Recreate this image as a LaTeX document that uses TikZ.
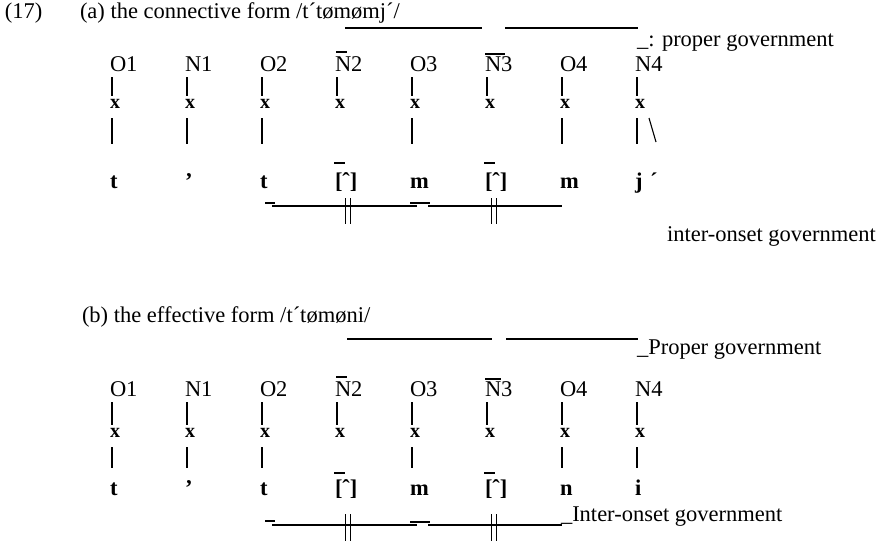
\documentclass[tikz,border=0pt]{standalone}
\usepackage{fontspec}
\setmainfont{Liberation Serif}
\usetikzlibrary{calc}
\newcommand\dfs{\fontsize{22.5}{26}\selectfont}
\newcommand\xfs{\fontsize{20}{24}\selectfont}
\begin{document}
\begin{tikzpicture}[x=1pt,y=-1pt,
  every node/.style={inner sep=0pt,outer sep=0pt,anchor=base west,font=\dfs},
  xmark/.style={font=\xfs\bfseries},
  seg/.style={font=\dfs\bfseries},
  vbar/.style={line width=1.1pt},
  govline/.style={line width=1.5pt},
  tick/.style={line width=0.9pt}]
\useasboundingbox[fill=white] (0,0) rectangle (887,541);

% ---------------- (a) ----------------
\node (num) at (5,18) {(17)};
\node (ha) at (80,18) {(a) the connective form /t´tømømj´/};

\foreach \lab [count=\i] in {O1,N1,O2,N2,O3,N3,O4,N4} {
  \pgfmathsetmacro\cx{110+75*(\i-1)}
  \node (la\i) at (\cx,71) {\lab};
  \node[xmark] (xa\i) at (\cx,108) {x};
  \draw[vbar] ($(la\i.base west)+(2,6)$) -- ($(xa\i.north west)+(2,-3)$);
}
\foreach \v [count=\i] in {t,’,t,{[ˆ]},m,{[ˆ]},m,j} {
  \pgfmathsetmacro\cx{110+75*(\i-1)}
  \node[seg] (ba\i) at (\cx,188) {\v};
}
\node[seg] (acca) at (650,188) {´};
\foreach \i in {1,2,3,5,7,8} {
  \draw[vbar] ($(xa\i.base west)+(2,10)$) -- ($(ba\i.base west)+(2,-44)$);
}
\draw[vbar] ($(xa8.base west)+(14,10)$) -- ($(acca.base west)+(6,-46)$);
% macrons
\draw[vbar] ($(ba4.base west)+(-1,-25)$) -- ++(11,0);
\draw[vbar] ($(ba6.base west)+(-1,-25)$) -- ++(11,0);
% overbars on labels
\draw[vbar] ($(la4.base west)+(1,-19)$) -- ++(11,0);
\draw[vbar] ($(la6.base west)+(0,-17)$) -- ++(20,0);

% proper government lines
\coordinate (pa1) at (345,28);
\coordinate (pa2) at (482,28);
\coordinate (pa3) at (505,28);
\coordinate (pa4) at (638,28);
\draw[govline] (pa1) -- (pa2);
\draw[govline] (pa3) -- (pa4);
\node (pga) at (637,46) {\_: proper government};

% inter-onset lines
\coordinate (ia0) at (265,203);
\coordinate (ia1) at (275,203);
\coordinate (ia2) at (272,206);
\coordinate (ia3) at (417,206);
\coordinate (ia4) at (410,203);
\coordinate (ia5) at (430,203);
\coordinate (ia6) at (428,206);
\coordinate (ia7) at (562,206);
\draw[govline] (ia0) -- (ia1);
\draw[govline] (ia2) -- (ia3);
\draw[govline] (ia4) -- (ia5);
\draw[govline] (ia6) -- (ia7);
\foreach \xx in {345,350,491,496} \draw[tick] (\xx,198) -- (\xx,224);
\node (ioa) at (667,241) {inter-onset government};

% ---------------- (b) ----------------
\node (hb) at (82,322) {(b) the effective form /t´tømøni/};

\foreach \lab [count=\i] in {O1,N1,O2,N2,O3,N3,O4,N4} {
  \pgfmathsetmacro\cx{110+75*(\i-1)}
  \node (lb\i) at (\cx,396) {\lab};
  \node[xmark] (xb\i) at (\cx,437) {x};
  \draw[vbar] ($(lb\i.base west)+(2,6)$) -- ($(xb\i.north west)+(2,-3)$);
}
\foreach \v [count=\i] in {t,’,t,{[ˆ]},m,{[ˆ]},n,i} {
  \pgfmathsetmacro\cx{110+75*(\i-1)}
  \node[seg] (bb\i) at (\cx,495) {\v};
}
\foreach \i in {1,2,3,5,7,8} {
  \draw[vbar] ($(xb\i.base west)+(2,10)$) -- ($(bb\i.base west)+(2,-27)$);
}
\draw[vbar] ($(bb4.base west)+(-1,-22)$) -- ++(11,0);
\draw[vbar] ($(bb6.base west)+(-1,-22)$) -- ++(11,0);
\draw[vbar] ($(lb4.base west)+(1,-19)$) -- ++(11,0);
\draw[vbar] ($(lb6.base west)+(0,-17)$) -- ++(16,0);

\coordinate (pb1) at (347,339);
\coordinate (pb2) at (492,339);
\coordinate (pb3) at (506,339);
\coordinate (pb4) at (638,339);
\draw[govline] (pb1) -- (pb2);
\draw[govline] (pb3) -- (pb4);
\node (pgb) at (637,354) {\_Proper government};

\coordinate (ib0) at (265,521);
\coordinate (ib1) at (275,521);
\coordinate (ib2) at (272,525);
\coordinate (ib3) at (417,525);
\coordinate (ib4) at (410,522);
\coordinate (ib5) at (430,522);
\coordinate (ib6) at (428,525);
\coordinate (ib7) at (562,525);
\draw[govline] (ib0) -- (ib1);
\draw[govline] (ib2) -- (ib3);
\draw[govline] (ib4) -- (ib5);
\draw[govline] (ib6) -- (ib7);
\foreach \xx in {345,350,491,496} \draw[tick] (\xx,514) -- (\xx,541);
\node (iob) at (561,521) {\_Inter-onset government};
\end{tikzpicture}
\end{document}
